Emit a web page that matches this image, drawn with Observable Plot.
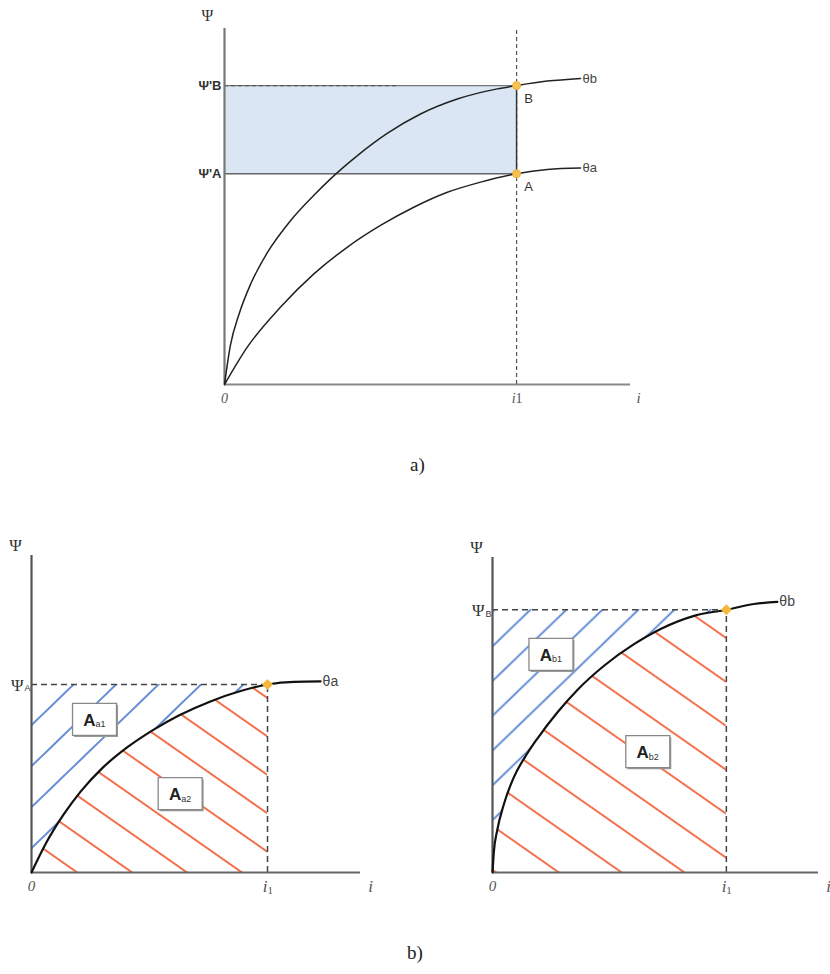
<!DOCTYPE html>
<html><head><meta charset="utf-8">
<script src="https://cdn.jsdelivr.net/npm/d3@7"></script>
<script src="https://cdn.jsdelivr.net/npm/@observablehq/plot@0.6"></script>
<style>
body{margin:0;background:#fff;}
#wrap{position:relative;width:830px;height:974px;overflow:hidden;}
.panel{position:absolute;}
.cap{position:absolute;font-family:"Liberation Serif","DejaVu Serif",serif;font-size:19px;color:#222;}
</style></head><body><div id="wrap"></div>
<script>
// ---------------- DATA ----------------
// panel a) curves, i relative to i1, Psi relative to Psi_B
const topThetaB = [[0,0],[0.02,0.13],[0.05,0.236],[0.09,0.337],[0.146,0.44],[0.226,0.548],[0.306,0.633],[0.363,0.688],[0.454,0.765],[0.557,0.84],[0.671,0.905],[0.797,0.955],[0.934,0.989],[1,1],[1.105,1.015],[1.219,1.024]];
const topThetaA = [[0,0],[0.078,0.125],[0.192,0.259],[0.306,0.370],[0.420,0.459],[0.534,0.532],[0.648,0.593],[0.763,0.643],[0.877,0.677],[1,0.705],[1.105,0.719],[1.219,0.724]];
const topPsiTicks = [0.705, 1];
const topPsiLabels = ["Ψ'A", "Ψ'B"];
const topPointLabels = ["A", "B"];
const topCurveLabels = ["θa", "θb"];
// panel b) left, Psi relative to Psi_A
const leftThetaA = [[0,0],[0.059,0.15],[0.137,0.31],[0.208,0.43],[0.30,0.555],[0.405,0.665],[0.518,0.76],[0.624,0.835],[0.758,0.91],[0.886,0.965],[1,1],[1.113,1.014],[1.225,1.016]];
const leftPsi = 1;
const leftBoxes = [{x:0.267,y:0.814,main:"A",sub:"a1"},{x:0.63,y:0.419,main:"A",sub:"a2"}];
// panel b) right, Psi relative to Psi_B
const rightThetaB = [[0,0],[0.006,0.08],[0.02,0.16],[0.048,0.258],[0.09,0.36],[0.150,0.455],[0.192,0.51],[0.278,0.61],[0.363,0.695],[0.477,0.787],[0.605,0.869],[0.719,0.927],[0.862,0.977],[1,1],[1.118,1.022],[1.218,1.030]];
const rightPsi = 1;
const rightBoxes = [{x:0.25,y:0.83,main:"A",sub:"b1"},{x:0.664,y:0.46,main:"A",sub:"b2"}];
const i1 = 1;
const xLabels = ["0", "i", "1"];

// ---------------- helpers ----------------
const toObj = a => a.map(([x,y]) => ({x,y}));
const SANS = "Liberation Sans, Arial, sans-serif";
const SERIF = "Liberation Serif, DejaVu Serif, serif";
function addDefs(svg, pats){
  const ns="http://www.w3.org/2000/svg";
  const defs=document.createElementNS(ns,"defs");
  for(const p of pats){
    const pat=document.createElementNS(ns,"pattern");
    pat.setAttribute("id",p.id);
    pat.setAttribute("patternUnits","userSpaceOnUse");
    pat.setAttribute("width",10);
    pat.setAttribute("height",p.gap);
    pat.setAttribute("patternTransform",`translate(${p.tx||0},${p.ty||0}) rotate(${p.angle})`);
    const ln=document.createElementNS(ns,"line");
    ln.setAttribute("x1",-1);ln.setAttribute("x2",11);
    ln.setAttribute("y1",p.gap/2);ln.setAttribute("y2",p.gap/2);
    ln.setAttribute("stroke",p.color);ln.setAttribute("stroke-width",1.7);
    pat.appendChild(ln);defs.appendChild(pat);
  }
  svg.insertBefore(defs,svg.firstChild);
}
const boxSymbol = {draw(ctx){ctx.moveTo(-22,-16);ctx.lineTo(22,-16);ctx.lineTo(22,16);ctx.lineTo(-22,16);ctx.closePath();}};

const wrap = document.getElementById("wrap");
function place(el, left, top){ el.classList.add("panel"); el.style.left=left+"px"; el.style.top=top+"px"; wrap.appendChild(el); }

// ---------------- panel a ----------------
{
  const xMax = 1.39, yMax = 1.191;
  const B = toObj(topThetaB), A = toObj(topThetaA);
  const pts = [{x:i1,y:topPsiTicks[0],t:topPointLabels[0]},{x:i1,y:topPsiTicks[1],t:topPointLabels[1]}];
  const ends = [{...A[A.length-1],t:topCurveLabels[0]},{...B[B.length-1],t:topCurveLabels[1]}];
  const svg = Plot.plot({
    width:830, height:420, marginLeft:224, marginRight:200, marginTop:28, marginBottom:36,
    x:{domain:[0,xMax], axis:null}, y:{domain:[0,yMax], axis:null},
    style:{fontFamily:SANS, background:"white"},
    marks:[
      Plot.rect([{x1:0,x2:i1,y1:topPsiTicks[0],y2:topPsiTicks[1]}],{x1:"x1",x2:"x2",y1:"y1",y2:"y2",fill:"#dae6f3"}),
      Plot.ruleY([topPsiTicks[0]],{x1:0,x2:i1,stroke:"#666",strokeWidth:1.3}),
      Plot.ruleY([topPsiTicks[1]],{x1:0,x2:i1,stroke:"#777",strokeWidth:1.3}),
      Plot.ruleY([topPsiTicks[1]],{x1:0,x2:i1*0.6,stroke:"#555",strokeWidth:1.3,strokeDasharray:"4,3"}),
      Plot.ruleX([i1],{y1:0,y2:yMax,stroke:"#555",strokeWidth:1.2,strokeDasharray:"4,3"}),
      Plot.ruleX([i1],{y1:topPsiTicks[0],y2:topPsiTicks[1],stroke:"#333",strokeWidth:1.5}),
      Plot.ruleX([0],{y1:0,y2:yMax,stroke:"#777",strokeWidth:2.2}),
      Plot.ruleY([0],{x1:0,x2:xMax,stroke:"#888",strokeWidth:2}),
      Plot.line(B,{x:"x",y:"y",curve:"monotone-x",stroke:"#222",strokeWidth:1.5}),
      Plot.line(A,{x:"x",y:"y",curve:"monotone-x",stroke:"#222",strokeWidth:1.5}),
      Plot.dot(pts,{x:"x",y:"y",r:4,symbol:"circle",fill:"#f6c14e",stroke:"#f2b13a",strokeWidth:1}),
      Plot.text(pts,{x:"x",y:"y",text:"t",dx:12,dy:13,fontSize:13,fill:"#333"}),
      Plot.text(ends,{x:"x",y:"y",text:"t",textAnchor:"start",dx:2,dy:0,fontSize:13,fill:"#444"}),
      Plot.text(topPsiTicks,{x:0,y:d=>d,text:(d,i)=>topPsiLabels[i],textAnchor:"end",dx:-3,fontSize:13,fill:"#333",fontWeight:"bold"}),
      Plot.text(["Ψ"],{x:0,y:yMax,text:d=>d,dx:-17,dy:-13,fontSize:16,fill:"#333",fontFamily:SERIF}),
      Plot.text([0],{x:d=>d,y:0,text:()=>xLabels[0],dy:14,fontSize:14,fontStyle:"italic",fill:"#555",fontFamily:SERIF}),
      Plot.text([i1],{x:d=>d,y:0,text:()=>xLabels[1],textAnchor:"end",dx:-1,dy:14,fontSize:14,fontStyle:"italic",fill:"#555",fontFamily:SERIF}),
      Plot.text([i1],{x:d=>d,y:0,text:()=>xLabels[2],textAnchor:"start",dx:-1,dy:14,fontSize:14,fill:"#555",fontFamily:SERIF}),
      Plot.text([xMax],{x:d=>d,y:0,text:()=>xLabels[1],dx:8,dy:14,fontSize:15,fontStyle:"italic",fill:"#555",fontFamily:SERIF})
    ]
  });
  place(svg,0,0);
  const c=document.createElement("div");c.className="cap";c.textContent="a)";c.style.left="410px";c.style.top="454px";wrap.appendChild(c);
}

// ---------------- panel b ----------------
function bottomPanel(curveArr, psi, boxes, psiSub, curveLabel, cfg){
  const C = toObj(curveArr);
  const inside = C.filter(d=>d.x<=i1);
  const end = C[C.length-1];
  const svg = Plot.plot({
    width:cfg.width, height:370, marginLeft:cfg.ml, marginRight:cfg.mr, marginTop:cfg.mt, marginBottom:28,
    x:{domain:[0,cfg.xMax],axis:null}, y:{domain:[0,cfg.yMax],axis:null},
    style:{fontFamily:SANS, background:"white", overflow:"visible"},
    marks:[
      Plot.areaY(inside,{x:"x",y1:"y",y2:psi,curve:"monotone-x",fill:`url(#${cfg.id}b)`}),
      Plot.areaY(inside,{x:"x",y1:0,y2:"y",curve:"monotone-x",fill:`url(#${cfg.id}r)`}),
      Plot.ruleY([psi],{x1:0,x2:i1,stroke:"#444",strokeWidth:1.5,strokeDasharray:"6,4"}),
      Plot.ruleX([i1],{y1:0,y2:psi,stroke:"#444",strokeWidth:1.5,strokeDasharray:"6,4"}),
      Plot.ruleX([0],{y1:0,y2:cfg.yMax,stroke:"#555",strokeWidth:2.2}),
      Plot.ruleY([0],{x1:0,x2:cfg.xMax,stroke:"#666",strokeWidth:2}),
      Plot.line(C,{x:"x",y:"y",curve:"monotone-x",stroke:"#111",strokeWidth:2.2}),
      Plot.dot([{x:i1,y:psi}],{x:"x",y:"y",symbol:"diamond2",r:5,fill:"#f5b83d"}),
      Plot.dot(boxes,{x:"x",y:"y",symbol:boxSymbol,r:10,fill:"#999",dx:1.5,dy:1.5}),
      Plot.dot(boxes,{x:"x",y:"y",symbol:boxSymbol,r:10,fill:"white",stroke:"#888",strokeWidth:1.3}),
      Plot.text(boxes,{x:"x",y:"y",text:"main",textAnchor:"end",dx:1,dy:1,fontSize:17,fontWeight:"bold",fill:"#222"}),
      Plot.text(boxes,{x:"x",y:"y",text:"sub",textAnchor:"start",dx:1,dy:5,fontSize:9,fill:"#333"}),
      Plot.text([end],{x:"x",y:"y",text:()=>curveLabel,textAnchor:"start",dx:2,fontSize:14,fill:"#444"}),
      Plot.text([psi],{x:0,y:d=>d,text:()=>"Ψ",textAnchor:"end",dx:-8,dy:1,fontSize:17,fill:"#333",fontFamily:SERIF}),
      Plot.text([psi],{x:0,y:d=>d,text:()=>psiSub,textAnchor:"end",dx:-1,dy:4,fontSize:9,fill:"#333"}),
      Plot.text(["Ψ"],{x:0,y:cfg.yMax,text:d=>d,dx:-16,dy:-10,fontSize:17,fill:"#333",fontFamily:SERIF}),
      Plot.text([0],{x:d=>d,y:0,text:()=>xLabels[0],dy:14,fontSize:15,fontStyle:"italic",fill:"#555",fontFamily:SERIF}),
      Plot.text([i1],{x:d=>d,y:0,text:()=>xLabels[1],textAnchor:"end",dx:0,dy:14,fontSize:17,fontStyle:"italic",fill:"#555",fontFamily:SERIF}),
      Plot.text([i1],{x:d=>d,y:0,text:()=>xLabels[2],textAnchor:"start",dx:0,dy:18,fontSize:11,fill:"#555",fontFamily:SERIF}),
      Plot.text([cfg.xMax],{x:d=>d,y:0,text:()=>xLabels[1],dx:10,dy:14,fontSize:17,fontStyle:"italic",fill:"#555",fontFamily:SERIF})
    ]
  });
  addDefs(svg,[
    {id:cfg.id+"b",gap:cfg.blueGap,angle:-44,color:"#4a7bd0"},
    {id:cfg.id+"r",gap:cfg.redGap,angle:35,color:"#f2582f"}
  ]);
  return svg;
}
place(bottomPanel(leftThetaA,leftPsi,leftBoxes,"A","θa",{id:"L",width:415,ml:31,mr:55,mt:25,xMax:1.394,yMax:1.686,blueGap:29.5,redGap:31.5}),0,530);
place(bottomPanel(rightThetaB,rightPsi,rightBoxes,"B","θb",{id:"R",width:415,ml:77,mr:12,mt:27,xMax:1.394,yMax:1.199,blueGap:25,redGap:36}),415,530);
{const c=document.createElement("div");c.className="cap";c.textContent="b)";c.style.left="407px";c.style.top="942px";wrap.appendChild(c);}
</script></body></html>
